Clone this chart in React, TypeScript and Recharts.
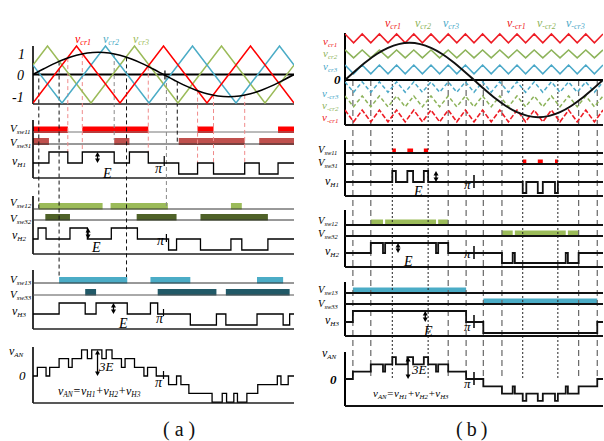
import React from 'react';
import { LineChart, Line, XAxis, YAxis, ReferenceArea, ReferenceLine } from 'recharts';

type Iv = [number, number];
type Seg = [number, number, number];
type Pt = [number, number];
type P = { x: number; y: number };

// ================= Panel (a) data (angle in degrees, one fundamental period) =================
const sineStep = 15;
const sineA = [0, 0.2, 0.39, 0.55, 0.675, 0.753, 0.78, 0.753, 0.675, 0.55, 0.39, 0.2, 0, -0.2, -0.39, -0.55, -0.675, -0.753, -0.78, -0.753, -0.675, -0.55, -0.39, -0.2, 0];
const carrierA_red: Pt[] = [[0, -1], [60, 1], [120, -1], [180, 1], [240, -1], [300, 1], [360, -1]];
const carrierA_blue: Pt[] = [[0, 0.33], [40, -1], [100, 1], [160, -1], [220, 1], [280, -1], [340, 1], [360, 0.33]];
const carrierA_green: Pt[] = [[0, 0.33], [20, 1], [80, -1], [140, 1], [200, -1], [260, 1], [320, -1], [360, 0.33]];

const vsw11A: Iv[] = [[0, 48], [68, 159], [227, 249], [338, 360]];
const vsw31A: Iv[] = [[0, 22], [112, 133], [201, 292], [312, 360]];
const vH1A_pos: Iv[] = [[22, 48], [68, 112], [133, 159]];
const vH1A_neg: Iv[] = [[201, 227], [249, 292], [312, 338]];

const vsw12A: Iv[] = [[8, 96], [107, 186], [273, 288]];
const vsw32A: Iv[] = [[17, 51], [143, 198], [231, 324]];
const vH2A_pos: Iv[] = [[7, 18], [51, 75], [108, 144]];
const vH2A_neg: Iv[] = [[187, 198], [231, 273], [288, 324]];

const vsw13A: Iv[] = [[36, 130], [162, 217], [309, 345]];
const vsw33A: Iv[] = [[72, 87], [172, 253], [266, 354]];
const vH3A_pos: Iv[] = [[36, 72], [87, 130], [162, 172]];
const vH3A_neg: Iv[] = [[217, 253], [266, 309], [345, 354]];

const vAN_A: Seg[] = [
  [6, 18, 1], [23, 36, 1], [36, 49, 2], [49, 54, 1], [54, 67, 2], [67, 75, 3], [75, 81, 2], [81, 95, 3],
  [95, 101, 2], [101, 109, 3], [109, 122, 2], [122, 127, 1], [127, 140, 2], [140, 153, 1], [158, 170, 1],
  [187, 198, -1], [204, 215, -1], [215, 247, -2], [247, 261, -3], [261, 267, -2], [267, 277, -3], [277, 282, -2],
  [282, 295, -3], [295, 310, -2], [310, 337, -1], [342, 352, -1],
];

const dashA_black = [8, 36, 129, 199];
const dashA_gray = [112, 184];
const dashA_red = [48, 68, 159, 227, 249, 292];

// ================= Panel (b) data =================
const sineB = [0, 0.204, 0.395, 0.559, 0.684, 0.763, 0.79, 0.763, 0.684, 0.559, 0.395, 0.204, 0, -0.204, -0.395, -0.559, -0.684, -0.763, -0.79, -0.763, -0.684, -0.559, -0.395, -0.204, 0];
const carrierB_peaks = [0, 24, 48, 72, 96, 120, 144, 168, 192, 216, 240, 264, 288, 312, 336, 360];
const carrierB_troughs = [12, 36, 60, 84, 108, 132, 156, 180, 204, 228, 252, 276, 300, 324, 348];
const bandCr1: Iv = [0.79, 0.98];
const bandCr2: Iv = [0.47, 0.64];
const bandCr3: Iv = [0.13, 0.32];
const bandNcr3: Iv = [-0.26, -0.04];
const bandNcr2: Iv = [-0.57, -0.34];
const bandNcr1: Iv = [-0.89, -0.64];

const vH1B_pos: Iv[] = [[66, 71], [87, 95], [110, 116]];
const vH1B_neg: Iv[] = [[248, 253], [269, 276], [293, 297]];
const vH2B_pos: Iv[] = [[36, 53], [56, 127], [130, 144]];
const vH2B_neg: Iv[] = [[219, 234], [237, 308], [311, 326]];
const vH3B_pos: Iv[] = [[11, 169]];
const vH3B_neg: Iv[] = [[193, 352]];

const dashB_long = [11, 36, 144, 169, 193, 219, 326, 352];
const dashB_dot = [66, 116, 248, 297];

// ================= helpers =================
const FONT = "'Liberation Serif','Times New Roman',serif";

const inIv = (t: number, ivs: Iv[]) => ivs.some(([a, b]) => t > a && t < b);

function stepLine(levelAt: (t: number) => number, edges: number[], base: number, scale: number): P[] {
  const xs = Array.from(new Set([0, 360, ...edges])).sort((p, q) => p - q);
  const pts: P[] = [];
  for (let i = 0; i < xs.length - 1; i++) {
    const v = levelAt((xs[i] + xs[i + 1]) / 2);
    const y = base - scale * v;
    pts.push({ x: xs[i], y }, { x: xs[i + 1], y });
  }
  return pts;
}
const pulseLine = (pos: Iv[], neg: Iv[], base: number, scale: number) =>
  stepLine((t) => (inIv(t, pos) ? 1 : inIv(t, neg) ? -1 : 0), [...pos.flat(), ...neg.flat()], base, scale);
const segLine = (segs: Seg[], base: number, scale: number) =>
  stepLine((t) => {
    const s = segs.find(([a, b]) => t > a && t < b);
    return s ? s[2] : 0;
  }, segs.flatMap(([a, b]) => [a, b]), base, scale);
const sumPulses = (groups: [Iv[], Iv[]][], base: number, scale: number) =>
  stepLine(
    (t) => groups.reduce((acc, [pos, neg]) => acc + (inIv(t, pos) ? 1 : inIv(t, neg) ? -1 : 0), 0),
    groups.flatMap(([p, n]) => [...p.flat(), ...n.flat()]),
    base,
    scale
  );
const sineAt = (arr: number[], deg: number) => {
  const i = Math.min(arr.length - 2, Math.floor(deg / sineStep));
  const f = (deg - i * sineStep) / sineStep;
  return arr[i] + (arr[i + 1] - arr[i]) * f;
};

const ArrowShape = (p: any) => {
  const { x1, y1, y2 } = p;
  const top = Math.min(y1, y2);
  const bot = Math.max(y1, y2);
  return (
    <g>
      <line x1={x1} y1={top + 2} x2={x1} y2={bot - 2} stroke="#000" strokeWidth={1.3} />
      <path d={`M${x1 - 2.5},${top + 4.5}L${x1},${top}L${x1 + 2.5},${top + 4.5}Z`} fill="#000" />
      <path d={`M${x1 - 2.5},${bot - 4.5}L${x1},${bot}L${x1 + 2.5},${bot - 4.5}Z`} fill="#000" />
    </g>
  );
};

function makeBuilder() {
  const els: React.ReactNode[] = [];
  let k = 0;
  return {
    els,
    seg(x1: number, y1: number, x2: number, y2: number, stroke: string, w: number, dash?: string) {
      els.push(
        <ReferenceLine key={'s' + k++} segment={[{ x: x1, y: y1 }, { x: x2, y: y2 }]} stroke={stroke} strokeWidth={w} strokeDasharray={dash} ifOverflow="visible" />
      );
    },
    arrow(x: number, y1: number, y2: number) {
      els.push(<ReferenceLine key={'a' + k++} segment={[{ x, y: y1 }, { x, y: y2 }]} shape={ArrowShape} ifOverflow="visible" />);
    },
    area(x1: number, x2: number, y1: number, y2: number, fill: string) {
      els.push(<ReferenceArea key={'r' + k++} x1={x1} x2={x2} y1={y1} y2={y2} fill={fill} fillOpacity={1} stroke="none" ifOverflow="visible" />);
    },
    line(data: P[], stroke: string, w: number, type: any = 'linear', dash?: string) {
      els.push(
        <Line key={'l' + k++} data={data} dataKey="y" type={type} stroke={stroke} strokeWidth={w} strokeDasharray={dash} dot={false} activeDot={false} isAnimationActive={false} />
      );
    },
  };
}

// ================= Panel (a) =================
const LA = {
  zero: 74.5, amp: 28.5, top: [46, 104],
  sw11: 132, sw31: 144, h1: 163, g1: [120, 178],
  sw12: 209, sw32: 220, h2: 239, g2: [196, 254],
  sw13: 283, sw33: 295, h3: 314, g3: [270, 329],
  an: 376, g4: [347, 403], hE: 11, anE: 8.7,
};

function buildA() {
  const b = makeBuilder();
  const cy = (v: number) => LA.zero - LA.amp * v;
  vsw11A.forEach(([a, c]) => b.area(a, c, LA.sw11 - 5.5, LA.sw11 + 1, '#ff0000'));
  vsw31A.forEach(([a, c]) => b.area(a, c, LA.sw31 - 6, LA.sw31 + 1, '#c0504d'));
  vsw12A.forEach(([a, c]) => b.area(a, c, LA.sw12 - 6, LA.sw12 + 0.5, '#9bbb59'));
  vsw32A.forEach(([a, c]) => b.area(a, c, LA.sw32 - 6, LA.sw32 + 0.5, '#4f6228'));
  vsw13A.forEach(([a, c]) => b.area(a, c, LA.sw13 - 6, LA.sw13 + 0.5, '#4bacc6'));
  vsw33A.forEach(([a, c]) => b.area(a, c, LA.sw33 - 6, LA.sw33 + 0.5, '#215967'));
  [LA.top, LA.g1, LA.g2, LA.g3, LA.g4].forEach(([t, bt]) => b.seg(0, t, 0, bt, '#000', 1.6));
  b.seg(0, LA.zero, 360, LA.zero, '#000', 2);
  [LA.top[1], LA.g1[1], LA.g2[1], LA.g3[1], LA.g4[1]].forEach((y) => b.seg(0, y, 360, y, '#222', 1.3));
  b.seg(0, LA.sw11, 360, LA.sw11, '#777', 1);
  b.seg(0, LA.sw31, 360, LA.sw31, '#333', 1);
  b.seg(0, LA.sw12, 360, LA.sw12, '#333', 1);
  b.seg(0, LA.sw32, 360, LA.sw32, '#333', 1);
  b.seg(0, LA.sw13, 360, LA.sw13, '#333', 1);
  b.seg(0, LA.sw33, 360, LA.sw33, '#555', 1);
  const blackEnd = [210, 277, 277, 143];
  dashA_black.forEach((x, i) => b.seg(x, cy(sineAt(sineA, x)), x, blackEnd[i], '#111', 1, '4 3'));
  const grayEnd = [140, 208];
  dashA_gray.forEach((x, i) => b.seg(x, cy(sineAt(sineA, x)), x, grayEnd[i], '#888', 1, '4 3'));
  dashA_red.forEach((x) => b.seg(x, cy(sineAt(sineA, x)), x, sineAt(sineA, x) > 0 ? LA.h1 - LA.hE : LA.h1, '#f08a8a', 1, '4 3'));
  const toP = (pts: Pt[]) => pts.map(([x, v]) => ({ x, y: cy(v) }));
  b.line(toP(carrierA_green), '#9bbb59', 1.5);
  b.line(toP(carrierA_blue), '#4bacc6', 1.5);
  b.line(toP(carrierA_red), '#ff0000', 1.5);
  b.line(sineA.map((v, i) => ({ x: i * sineStep, y: cy(v) })), '#000', 1.6, 'monotone');
  b.line(pulseLine(vH1A_pos, vH1A_neg, LA.h1, LA.hE), '#000', 1.3);
  b.line(pulseLine(vH2A_pos, vH2A_neg, LA.h2, LA.hE), '#000', 1.3);
  b.line(pulseLine(vH3A_pos, vH3A_neg, LA.h3, LA.hE), '#000', 1.3);
  b.line(segLine(vAN_A, LA.an, LA.anE), '#000', 1.3);
  b.seg(182, LA.zero - 4, 182, LA.zero + 5, '#000', 1.2);
  b.seg(181, LA.h1 - 7, 181, LA.h1 + 3, '#000', 1.2);
  b.seg(184, LA.h2 - 5, 184, LA.h2 + 3, '#000', 1.2);
  b.seg(180, LA.h3 - 5, 180, LA.h3 + 2, '#000', 1.2);
  b.seg(180, LA.an - 5, 180, LA.an + 3, '#000', 1.2);
  b.arrow(89, LA.h1 - LA.hE, LA.h1);
  b.arrow(76, LA.h2 - LA.hE, LA.h2);
  b.arrow(111, LA.h3 - LA.hE, LA.h3);
  b.arrow(89, LA.an - 3 * LA.anE, LA.an);
  return b.els;
}

// ================= Panel (b) =================
const LB = {
  zero: 80, amp: 47, top: [33, 125],
  sw11: 153, sw31: 164, h1: 182, g1: [140, 196],
  sw12: 225, sw32: 236, h2: 253, g2: [210, 267],
  sw13: 293, sw33: 304, h3: 322, g3: [282, 336],
  an: 379, g4: [352, 406], hE: 11, anE: 7.3,
};

function buildB() {
  const b = makeBuilder();
  const cy = (v: number) => LB.zero - LB.amp * v;
  vH1B_pos.forEach(([a, c]) => b.area(a, c, LB.sw11 - 4.5, LB.sw11, '#ff0000'));
  vH1B_neg.forEach(([a, c]) => b.area(a, c, LB.sw31 - 4.5, LB.sw31, '#ff0000'));
  vH2B_pos.forEach(([a, c]) => b.area(a, c, LB.sw12 - 5.5, LB.sw12, '#9bbb59'));
  vH2B_neg.forEach(([a, c]) => b.area(a, c, LB.sw32 - 5.5, LB.sw32, '#9bbb59'));
  vH3B_pos.forEach(([a, c]) => b.area(a, c, LB.sw13 - 5.5, LB.sw13, '#4bacc6'));
  vH3B_neg.forEach(([a, c]) => b.area(a, c, LB.sw33 - 5.5, LB.sw33, '#4bacc6'));
  dashB_long.forEach((x) => b.seg(x, LB.zero, x, LB.an - 1, '#666', 1.2, '6 4'));
  dashB_dot.forEach((x) => b.seg(x, LB.zero, x, LB.an - 1, '#222', 1, '2 2'));
  [LB.top, LB.g1, LB.g2, LB.g3, LB.g4].forEach(([t, bt]) => b.seg(0, t, 0, bt, '#000', 2));
  b.seg(0, LB.zero, 360, LB.zero, '#000', 2.2);
  [LB.top[1], LB.g1[1], LB.g2[1], LB.g3[1], LB.g4[1]].forEach((y) => b.seg(0, y, 360, y, '#111', 2));
  [LB.sw11, LB.sw31, LB.sw12, LB.sw32, LB.sw13, LB.sw33].forEach((y) => b.seg(0, y, 360, y, '#111', 1.8));
  const verts = [...carrierB_peaks.map((x) => [x, 1]), ...carrierB_troughs.map((x) => [x, 0])].sort((p, q) => p[0] - q[0]);
  const carrier = (band: Iv) => verts.map(([x, hi]) => ({ x, y: cy(hi ? band[1] : band[0]) }));
  b.line(carrier(bandCr1), '#ee1c25', 1.5);
  b.line(carrier(bandCr2), '#8db35a', 1.5);
  b.line(carrier(bandCr3), '#4aa8c8', 1.5);
  b.line(carrier(bandNcr3), '#4aa8c8', 1.5, 'linear', '4 2.5');
  b.line(carrier(bandNcr2), '#8db35a', 1.5, 'linear', '4 2.5');
  b.line(carrier(bandNcr1), '#ee1c25', 1.6, 'linear', '5 2');
  b.line(sineB.map((v, i) => ({ x: i * sineStep, y: cy(v) })), '#111', 2, 'monotone');
  b.line(pulseLine(vH1B_pos, vH1B_neg, LB.h1, LB.hE), '#111', 1.8);
  b.line(pulseLine(vH2B_pos, vH2B_neg, LB.h2, LB.hE - 1), '#111', 1.8);
  b.line(pulseLine(vH3B_pos, vH3B_neg, LB.h3, LB.hE), '#111', 1.8);
  b.line(sumPulses([[vH1B_pos, vH1B_neg], [vH2B_pos, vH2B_neg], [vH3B_pos, vH3B_neg]], LB.an, LB.anE), '#111', 1.8);
  [LB.h1, LB.h2, LB.h3, LB.an].forEach((y) => b.seg(180, y - 7, 180, y + 6, '#111', 1.6));
  b.arrow(127, LB.h1 - LB.hE, LB.h1);
  b.arrow(74, LB.h2 - LB.hE + 1, LB.h2);
  b.arrow(112, LB.h3 - LB.hE, LB.h3);
  b.arrow(88, LB.an - 3 * LB.anE, LB.an);
  return b.els;
}

// ================= text =================
function Sym({ x, y, main, sub, color = '#000', size = 11, subSize }: any) {
  const ss = subSize ?? Math.round(size * 0.65);
  return (
    <text x={x} y={y} fill={color} fontFamily={FONT} fontStyle="italic" fontSize={size}>
      {main}
      {sub && (
        <tspan fontSize={ss} dy={size * 0.15}>
          {sub}
        </tspan>
      )}
    </text>
  );
}
function Eq({ x, y, size }: any) {
  const d = size * 0.2;
  const ss = size * 0.62;
  return (
    <text x={x} y={y} fontFamily={FONT} fontStyle="italic" fontSize={size} fill="#000">
      v<tspan fontSize={ss} dy={d}>AN</tspan>
      <tspan dy={-d}>=v</tspan>
      <tspan fontSize={ss} dy={d}>H1</tspan>
      <tspan dy={-d}>+v</tspan>
      <tspan fontSize={ss} dy={d}>H2</tspan>
      <tspan dy={-d}>+v</tspan>
      <tspan fontSize={ss} dy={d}>H3</tspan>
    </text>
  );
}
const T = ({ x, y, s, size = 14, weight = 'normal' }: any) => (
  <text x={x} y={y} fontFamily={FONT} fontStyle="italic" fontSize={size} fontWeight={weight} fill="#000">
    {s}
  </text>
);

function Labels() {
  return (
    <svg width={604} height={441} style={{ position: 'absolute', left: 0, top: 0, pointerEvents: 'none' }}>
      {/* panel a */}
      <Sym x={75} y={43} main="v" sub="cr1" color="#ff0000" size={12} />
      <Sym x={103} y={43} main="v" sub="cr2" color="#4bacc6" size={12} />
      <Sym x={133} y={43} main="v" sub="cr3" color="#9bbb59" size={12} />
      <T x={18} y={59} s="1" />
      <T x={17} y={80} s="0" />
      <T x={12} y={102} s="-1" />
      <Sym x={10} y={132} main="V" sub="sw11" size={11} subSize={7} />
      <Sym x={10} y={146} main="V" sub="sw31" size={11} subSize={7} />
      <Sym x={12} y={165} main="v" sub="H1" size={12} subSize={7} />
      <Sym x={10} y={206} main="V" sub="sw12" size={11} subSize={7} />
      <Sym x={10} y={222} main="V" sub="sw32" size={11} subSize={7} />
      <Sym x={12} y={239} main="v" sub="H2" size={12} subSize={7} />
      <Sym x={10} y={283} main="V" sub="sw13" size={11} subSize={7} />
      <Sym x={10} y={298} main="V" sub="sw33" size={11} subSize={7} />
      <Sym x={12} y={315} main="v" sub="H3" size={12} subSize={7} />
      <Sym x={9} y={355} main="v" sub="AN" size={12} subSize={7} />
      <T x={19} y={380} s="0" size={13} />
      <T x={103} y={178} s="E" />
      <T x={92} y={252} s="E" />
      <T x={119} y={328} s="E" />
      <T x={99} y={371} s="3E" size={13} />
      <T x={155} y={173} s="π" />
      <T x={157} y={245} s="π" />
      <T x={156} y={323} s="π" />
      <T x={155} y={387} s="π" />
      <Eq x={58} y={395} size={12} />
      <text x={163} y={436} fontFamily={FONT} fontSize={20} letterSpacing={5} fill="#111">(a)</text>
      {/* panel b */}
      <Sym x={385} y={27} main="v" sub="cr1" color="#ee1c25" size={12} />
      <Sym x={415} y={27} main="v" sub="cr2" color="#8db35a" size={12} />
      <Sym x={443} y={27} main="v" sub="cr3" color="#4aa8c8" size={12} />
      <Sym x={507} y={27} main="v" sub="-cr1" color="#ee1c25" size={12} />
      <Sym x={537} y={27} main="v" sub="-cr2" color="#8db35a" size={12} />
      <Sym x={566} y={27} main="v" sub="-cr3" color="#4aa8c8" size={12} />
      <Sym x={323} y={45} main="v" sub="cr1" color="#ee1c25" size={11} />
      <Sym x={323} y={57} main="v" sub="cr2" color="#8db35a" size={11} />
      <Sym x={323} y={70} main="v" sub="cr3" color="#4aa8c8" size={11} />
      <T x={334} y={84} s="0" size={13} weight="bold" />
      <Sym x={322} y={97} main="v" sub="-cr3" color="#4aa8c8" size={11} />
      <Sym x={322} y={109} main="v" sub="-cr2" color="#8db35a" size={11} />
      <Sym x={322} y={121} main="v" sub="-cr1" color="#ee1c25" size={11} />
      <Sym x={318} y={153} main="V" sub="sw11" size={10.5} subSize={6.5} />
      <Sym x={318} y={166} main="V" sub="sw31" size={10.5} subSize={6.5} />
      <Sym x={325} y={185} main="v" sub="H1" size={12} subSize={7} />
      <Sym x={318} y={224} main="V" sub="sw12" size={10.5} subSize={6.5} />
      <Sym x={318} y={237} main="V" sub="sw32" size={10.5} subSize={6.5} />
      <Sym x={325} y={255} main="v" sub="H2" size={12} subSize={7} />
      <Sym x={318} y={293} main="V" sub="sw13" size={10.5} subSize={6.5} />
      <Sym x={318} y={307} main="V" sub="sw33" size={10.5} subSize={6.5} />
      <Sym x={325} y={324} main="v" sub="H3" size={12} subSize={7} />
      <Sym x={322} y={357} main="v" sub="AN" size={12} subSize={7} />
      <T x={330} y={384} s="0" size={13} weight="bold" />
      <T x={414} y={196} s="E" />
      <T x={404} y={266} s="E" />
      <T x={424} y={336} s="E" />
      <T x={412} y={374} s="3E" size={13} />
      <T x={464} y={189} s="π" size={13} />
      <T x={464} y={258} s="π" size={13} />
      <T x={464} y={331} s="π" size={13} />
      <T x={464} y={388} s="π" size={13} />
      <Eq x={373} y={397} size={11} />
      <text x={456} y={436} fontFamily={FONT} fontSize={20} letterSpacing={4} fill="#111">(b)</text>
    </svg>
  );
}

function Panel({ left, width, mLeft, mRight, children }: any) {
  return (
    <div style={{ position: 'absolute', left, top: 0 }}>
      <LineChart width={width} height={441} margin={{ top: 0, right: mRight, bottom: 0, left: mLeft }}>
        <XAxis type="number" dataKey="x" domain={[0, 360]} hide allowDataOverflow />
        <YAxis type="number" domain={[0, 441]} reversed hide allowDataOverflow />
        {children}
      </LineChart>
    </div>
  );
}

export default function App() {
  return (
    <div style={{ position: 'absolute', left: 0, top: 0, width: 604, height: 441, background: '#fff', overflow: 'hidden' }}>
      <Panel left={0} width={300} mLeft={33} mRight={6}>
        {buildA()}
      </Panel>
      <Panel left={300} width={304} mLeft={45} mRight={1}>
        {buildB()}
      </Panel>
      <Labels />
    </div>
  );
}
